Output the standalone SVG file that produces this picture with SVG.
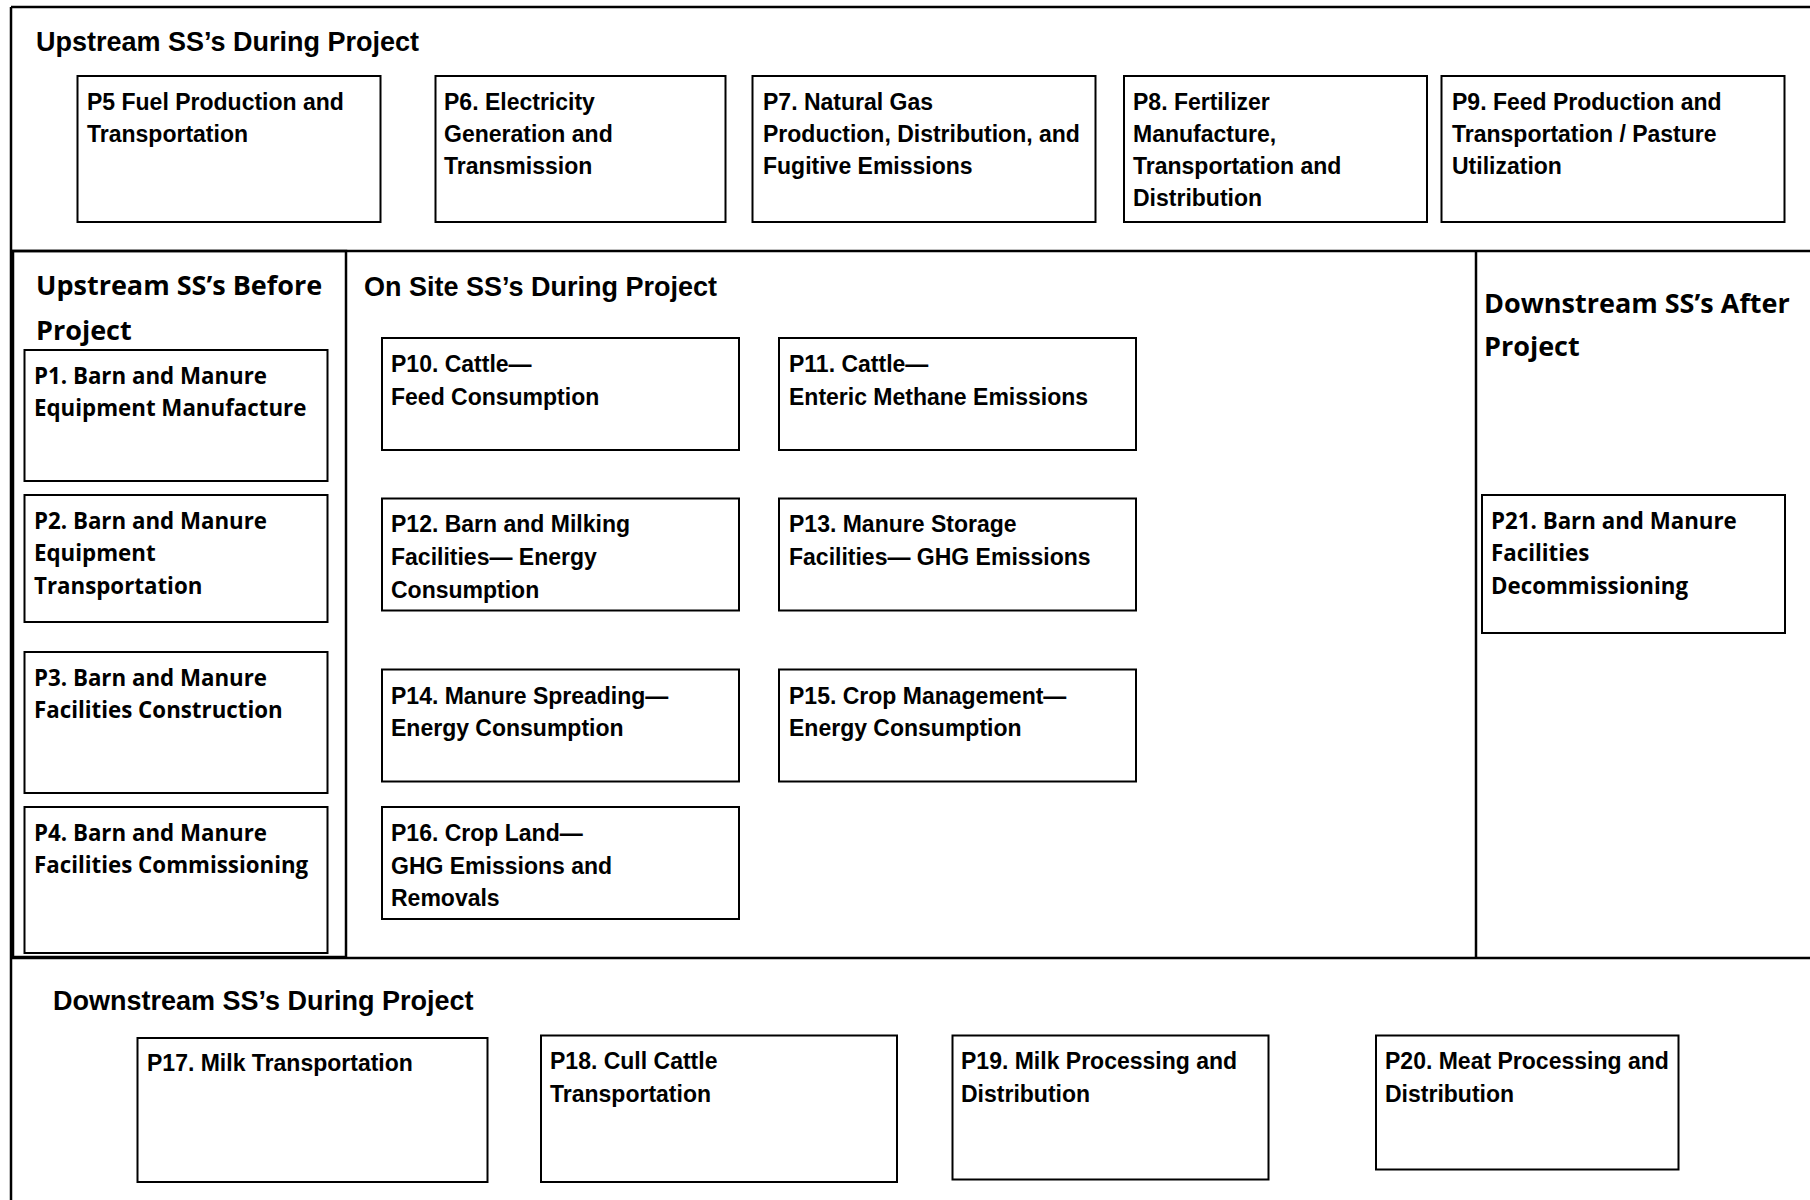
<svg xmlns="http://www.w3.org/2000/svg" width="1810" height="1200" viewBox="0 0 1810 1200">
<style>
.bg{fill:#fff}
.sec{fill:none;stroke:#000;stroke-width:2.5}
.box{fill:#fff;stroke:#000;stroke-width:2}
.h{font-family:"Liberation Sans",Arial,sans-serif;font-weight:bold;font-size:27px;fill:#000}
.t{font-family:"Liberation Sans",Arial,sans-serif;font-weight:bold;font-size:23px;fill:#000}
.hw{font-family:"Open Sans","DejaVu Sans",sans-serif;font-weight:bold;font-size:27px;fill:#000}
.tw{font-family:"Open Sans","DejaVu Sans",sans-serif;font-weight:bold;font-size:22.3px;fill:#000}
</style>
<rect class="bg" x="0" y="0" width="1810" height="1200"/>
<g id="frame">
<line class="sec" x1="11" y1="7" x2="1812" y2="7"/>
<line class="sec" x1="11" y1="7" x2="11" y2="1202"/>
<line class="sec" x1="11" y1="251" x2="1812" y2="251"/>
<line class="sec" x1="11" y1="958" x2="1812" y2="958"/>
<rect class="sec" x="13" y="251" width="333" height="706"/>
<line class="sec" x1="1476" y1="251" x2="1476" y2="958"/>
</g>
<g id="sections">
<text class="h" x="36" y="51">Upstream SS’s During Project</text>
<text class="hw" x="36" y="295">Upstream SS’s Before</text>
<text class="hw" x="36" y="340">Project</text>
<text class="h" x="364" y="296">On Site SS’s During Project</text>
<text class="hw" x="1484" y="313">Downstream SS’s After</text>
<text class="hw" x="1484" y="356">Project</text>
<text class="h" x="53" y="1010">Downstream SS’s During Project</text>
</g>
<g id="connectors"></g>
<g id="P5"><rect class="box" x="77.5" y="76" width="303" height="146"/>
<text class="t" x="87" y="110">P5 Fuel Production and</text><text class="t" x="87" y="142">Transportation</text></g>
<g id="P6"><rect class="box" x="435.5" y="76" width="290" height="146"/>
<text class="t" x="444" y="110">P6. Electricity</text><text class="t" x="444" y="142">Generation and</text><text class="t" x="444" y="174">Transmission</text></g>
<g id="P7"><rect class="box" x="752.5" y="76" width="343" height="146"/>
<text class="t" x="763" y="110">P7. Natural Gas</text><text class="t" x="763" y="142">Production, Distribution, and</text><text class="t" x="763" y="174">Fugitive Emissions</text></g>
<g id="P8"><rect class="box" x="1124" y="76" width="303" height="146"/>
<text class="t" x="1133" y="110">P8. Fertilizer</text><text class="t" x="1133" y="142">Manufacture,</text><text class="t" x="1133" y="174">Transportation and</text><text class="t" x="1133" y="206">Distribution</text></g>
<g id="P9"><rect class="box" x="1441.5" y="76" width="343" height="146"/>
<text class="t" x="1452" y="110">P9. Feed Production and</text><text class="t" x="1452" y="142">Transportation / Pasture</text><text class="t" x="1452" y="174">Utilization</text></g>
<g id="P1"><rect class="box" x="24.5" y="350" width="303" height="131"/>
<text class="tw" x="34" y="384">P1. Barn and Manure</text><text class="tw" x="34" y="416">Equipment Manufacture</text></g>
<g id="P2"><rect class="box" x="24.5" y="495" width="303" height="127"/>
<text class="tw" x="34" y="529">P2. Barn and Manure</text><text class="tw" x="34" y="561">Equipment</text><text class="tw" x="34" y="594">Transportation</text></g>
<g id="P3"><rect class="box" x="24.5" y="652" width="303" height="141"/>
<text class="tw" x="34" y="686">P3. Barn and Manure</text><text class="tw" x="34" y="718">Facilities Construction</text></g>
<g id="P4"><rect class="box" x="24.5" y="807" width="303" height="146"/>
<text class="tw" x="34" y="841">P4. Barn and Manure</text><text class="tw" x="34" y="873">Facilities Commissioning</text></g>
<g id="P10"><rect class="box" x="382" y="338" width="357" height="112"/>
<text class="t" x="391" y="372">P10. Cattle—</text><text class="t" x="391" y="405">Feed Consumption</text></g>
<g id="P11"><rect class="box" x="779" y="338" width="357" height="112"/>
<text class="t" x="789" y="372">P11. Cattle—</text><text class="t" x="789" y="405">Enteric Methane Emissions</text></g>
<g id="P12"><rect class="box" x="382" y="498.5" width="357" height="112"/>
<text class="t" x="391" y="532">P12. Barn and Milking</text><text class="t" x="391" y="565">Facilities— Energy</text><text class="t" x="391" y="598">Consumption</text></g>
<g id="P13"><rect class="box" x="779" y="498.5" width="357" height="112"/>
<text class="t" x="789" y="532">P13. Manure Storage</text><text class="t" x="789" y="565">Facilities— GHG Emissions</text></g>
<g id="P14"><rect class="box" x="382" y="669.5" width="357" height="112"/>
<text class="t" x="391" y="704">P14. Manure Spreading—</text><text class="t" x="391" y="736">Energy Consumption</text></g>
<g id="P15"><rect class="box" x="779" y="669.5" width="357" height="112"/>
<text class="t" x="789" y="704">P15. Crop Management—</text><text class="t" x="789" y="736">Energy Consumption</text></g>
<g id="P16"><rect class="box" x="382" y="807" width="357" height="112"/>
<text class="t" x="391" y="841">P16. Crop Land—</text><text class="t" x="391" y="874">GHG Emissions and</text><text class="t" x="391" y="906">Removals</text></g>
<g id="P21"><rect class="box" x="1482" y="495" width="303" height="138"/>
<text class="tw" x="1491" y="529">P21. Barn and Manure</text><text class="tw" x="1491" y="561">Facilities</text><text class="tw" x="1491" y="594">Decommissioning</text></g>
<g id="P17"><rect class="box" x="137.5" y="1038" width="350" height="144"/>
<text class="t" x="147" y="1071">P17. Milk Transportation</text></g>
<g id="P18"><rect class="box" x="541" y="1035.5" width="356" height="146.5"/>
<text class="t" x="550" y="1069">P18. Cull Cattle</text><text class="t" x="550" y="1102">Transportation</text></g>
<g id="P19"><rect class="box" x="952.5" y="1035.5" width="316" height="144"/>
<text class="t" x="961" y="1069">P19. Milk Processing and</text><text class="t" x="961" y="1102">Distribution</text></g>
<g id="P20"><rect class="box" x="1376" y="1035.5" width="302.5" height="134"/>
<text class="t" x="1385" y="1069">P20. Meat Processing and</text><text class="t" x="1385" y="1102">Distribution</text></g>
</svg>
